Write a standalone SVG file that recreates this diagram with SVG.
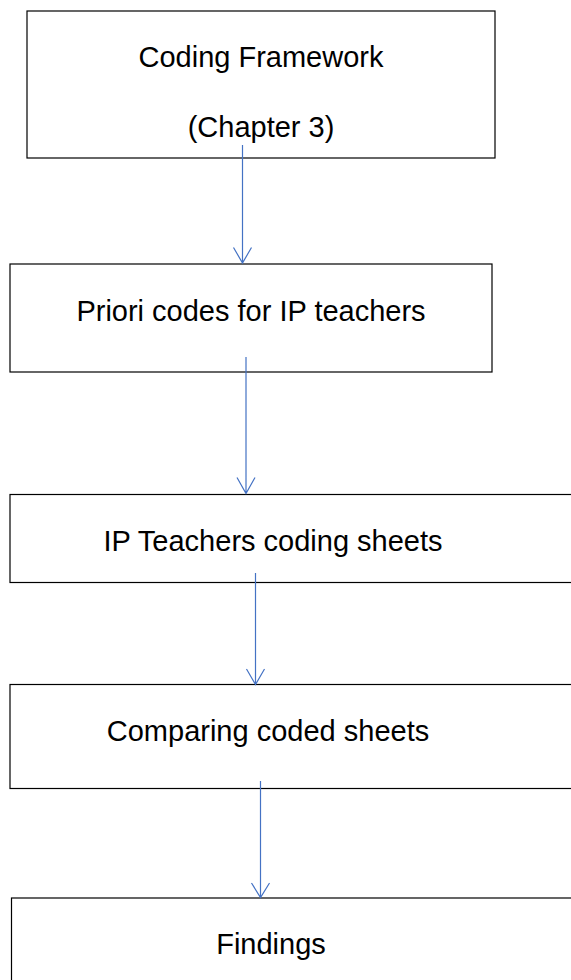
<svg xmlns="http://www.w3.org/2000/svg" width="571" height="980" viewBox="0 0 571 980">
<style>
.box{fill:#ffffff;stroke:#000000;stroke-width:1.2}
.lbl{font-family:"Liberation Sans",Arial,sans-serif;font-size:29px;fill:#000000;text-anchor:middle}
.conn{stroke:#4472C4;stroke-width:1.2;fill:none}
</style>
<rect width="571" height="980" fill="#ffffff"/>
<g id="node-coding-framework">
<rect class="box" x="27" y="11" width="468" height="147"/>
<text class="lbl" x="261" y="67">Coding Framework</text>
<text class="lbl" x="261" y="137">(Chapter 3)</text>
</g>
<g id="node-priori-codes">
<rect class="box" x="10" y="264" width="482" height="108"/>
<text class="lbl" x="251" y="321">Priori codes for IP teachers</text>
</g>
<g id="node-coding-sheets">
<rect class="box" x="10" y="494.5" width="570" height="88"/>
<text class="lbl" x="273" y="551">IP Teachers coding sheets</text>
</g>
<g id="node-comparing">
<rect class="box" x="10" y="684.5" width="570" height="104"/>
<text class="lbl" x="268" y="741">Comparing coded sheets</text>
</g>
<g id="node-findings">
<rect class="box" x="11.5" y="898" width="570" height="100"/>
<text class="lbl" x="271" y="954">Findings</text>
</g>
<g id="connectors">
<path class="conn" d="M242.5 145 V263 M233.5 247.5 L242.5 263 L251.5 247.5"/>
<path class="conn" d="M246 357 V493.5 M237 477.5 L246 493.5 L255 477.5"/>
<path class="conn" d="M255.5 573 V684.5 M246.5 669 L255.5 684.5 L264.5 669"/>
<path class="conn" d="M260.5 781 V897.5 M251.5 883 L260.5 897.5 L269.5 883"/>
</g>
</svg>
